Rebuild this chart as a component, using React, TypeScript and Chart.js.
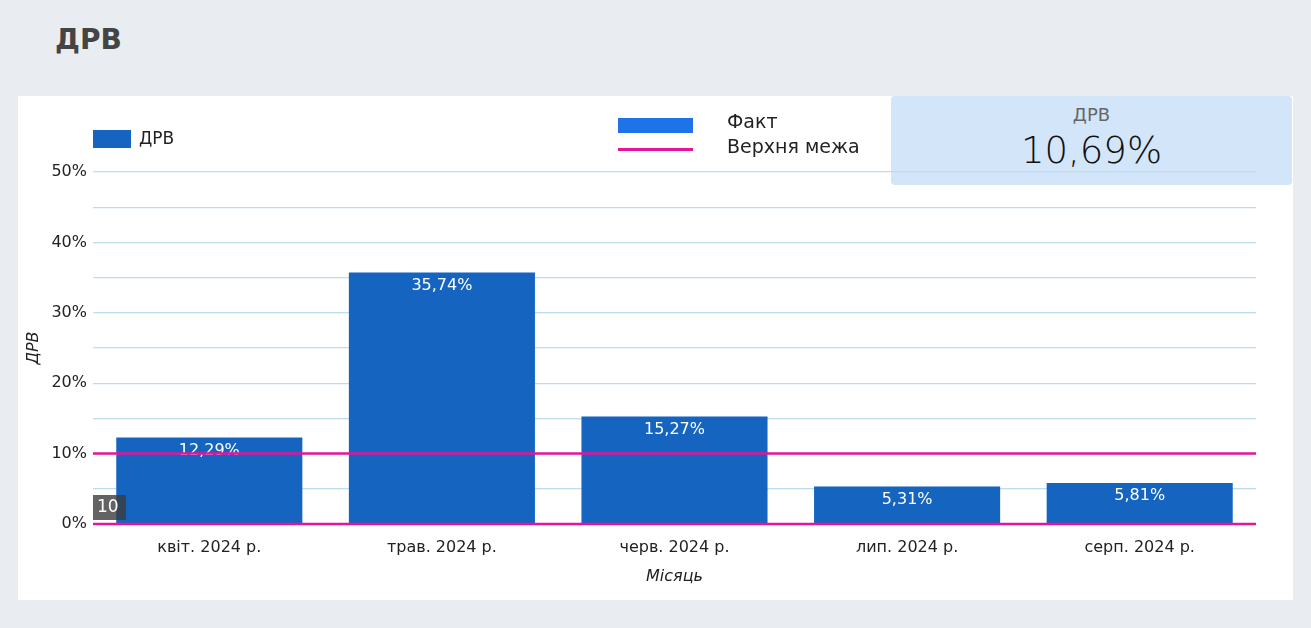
import React, { useEffect, useRef } from "react";
import { Chart, registerables } from "chart.js";

Chart.register(...registerables);

const categories = ["квіт. 2024 р.", "трав. 2024 р.", "черв. 2024 р.", "лип. 2024 р.", "серп. 2024 р."];
const factValues = [12.29, 35.74, 15.27, 5.31, 5.81];
const upperLimit = 10;
const yTicks = [0, 10, 20, 30, 40, 50];
const kpiValue = "10,69%";

const FONT = "'DejaVu Sans', sans-serif";
const BAR = "#1565c0";
const MAGENTA = "#e5149c";

const fmt = (v: number) => v.toFixed(2).replace(".", ",") + "%";

export default function App() {
  const ref = useRef<HTMLCanvasElement>(null);
  useEffect(() => {
    const overlay = {
      id: "overlay",
      afterDatasetsDraw(chart: any) {
        const ctx = chart.ctx;
        const y = chart.scales.y;
        const area = chart.chartArea;
        const meta = chart.getDatasetMeta(0);
        ctx.save();
        ctx.fillStyle = "#ffffff";
        ctx.font = `16px ${FONT}`;
        ctx.textAlign = "center";
        ctx.textBaseline = "middle";
        meta.data.forEach((bar: any, i: number) => {
          ctx.fillText(fmt(factValues[i]), bar.x, bar.y + 13);
        });
        ctx.strokeStyle = MAGENTA;
        ctx.lineWidth = 2.5;
        [upperLimit, 0].forEach((v) => {
          const py = y.getPixelForValue(v);
          ctx.beginPath();
          ctx.moveTo(area.left, py);
          ctx.lineTo(area.right, py);
          ctx.stroke();
        });
        const py0 = y.getPixelForValue(0);
        ctx.fillStyle = "rgba(60,60,60,0.8)";
        ctx.fillRect(area.left, py0 - 29, 33, 25);
        ctx.fillStyle = "#ffffff";
        ctx.font = `17px ${FONT}`;
        ctx.textAlign = "left";
        ctx.fillText(String(upperLimit), area.left + 4, py0 - 16);
        ctx.restore();
      },
    };
    const chart = new Chart(ref.current!, {
      type: "bar",
      data: {
        labels: categories,
        datasets: [
          {
            label: "Факт",
            data: factValues,
            backgroundColor: BAR,
            barPercentage: 0.8,
            categoryPercentage: 1,
          },
        ],
      },
      options: {
        responsive: false,
        animation: false,
        layout: { padding: { top: 76, right: 37, left: 0, bottom: 0 } },
        plugins: { legend: { display: false }, tooltip: { enabled: false } },
        scales: {
          x: {
            grid: { display: false },
            border: { display: false },
            ticks: { color: "#222", font: { family: FONT, size: 16 }, padding: 6 },
            title: {
              display: true,
              text: "Місяць",
              color: "#222",
              font: { family: FONT, size: 16, style: "italic" },
              padding: { top: 0, bottom: 14 },
            },
            afterFit(s: any) {
              s.height = 76;
            },
          },
          y: {
            min: 0,
            max: 50,
            ticks: {
              stepSize: 5,
              color: "#222",
              font: { family: FONT, size: 16 },
              padding: 6,
              callback: (v: any) => (yTicks.includes(Number(v)) ? v + "%" : ""),
            },
            grid: { color: "#bcdcf2", lineWidth: 1.2, drawTicks: false },
            border: { display: false },
            title: {
              display: true,
              text: "ДРВ",
              color: "#222",
              font: { family: FONT, size: 16, style: "italic" },
              padding: { bottom: 0, top: 6 },
            },
            afterFit(s: any) {
              s.width = 75;
            },
          },
        },
      },
      plugins: [overlay],
    });
    return () => chart.destroy();
  }, []);

  return (
    <div style={{ position: "fixed", left: 0, top: 0, width: 1311, height: 628, background: "#e9edf1", fontFamily: FONT, overflow: "hidden" }}>
      <div style={{ position: "absolute", left: 55, top: 23, fontSize: 28, fontWeight: 700, color: "#444" }}>ДРВ</div>
      <div style={{ position: "absolute", left: 18, top: 96, width: 1275, height: 504, background: "#fff" }} />
      <div style={{ position: "absolute", left: 891, top: 96, width: 401, height: 89, background: "#d3e6f9", borderRadius: 4 }}>
        <div style={{ position: "absolute", left: 0, right: 0, top: 8, textAlign: "center", fontSize: 18, color: "#666" }}>ДРВ</div>
        <div style={{ position: "absolute", left: 0, right: 0, top: 33, textAlign: "center", fontSize: 37, fontWeight: 300, color: "#111" }}>{kpiValue}</div>
      </div>
      <canvas ref={ref} width={1275} height={504} style={{ position: "absolute", left: 18, top: 96 }} />
      <div style={{ position: "absolute", left: 93, top: 130, width: 38, height: 18, background: BAR }} />
      <div style={{ position: "absolute", left: 139, top: 128, fontSize: 17, color: "#222" }}>ДРВ</div>
      <div style={{ position: "absolute", left: 618, top: 118, width: 75, height: 15, background: "#1e73e8" }} />
      <div style={{ position: "absolute", left: 618, top: 148, width: 75, height: 2.5, background: MAGENTA }} />
      <div style={{ position: "absolute", left: 727, top: 109, fontSize: 19, color: "#222", lineHeight: "25px" }}>
        Факт
        <br />
        Верхня межа
      </div>
    </div>
  );
}
